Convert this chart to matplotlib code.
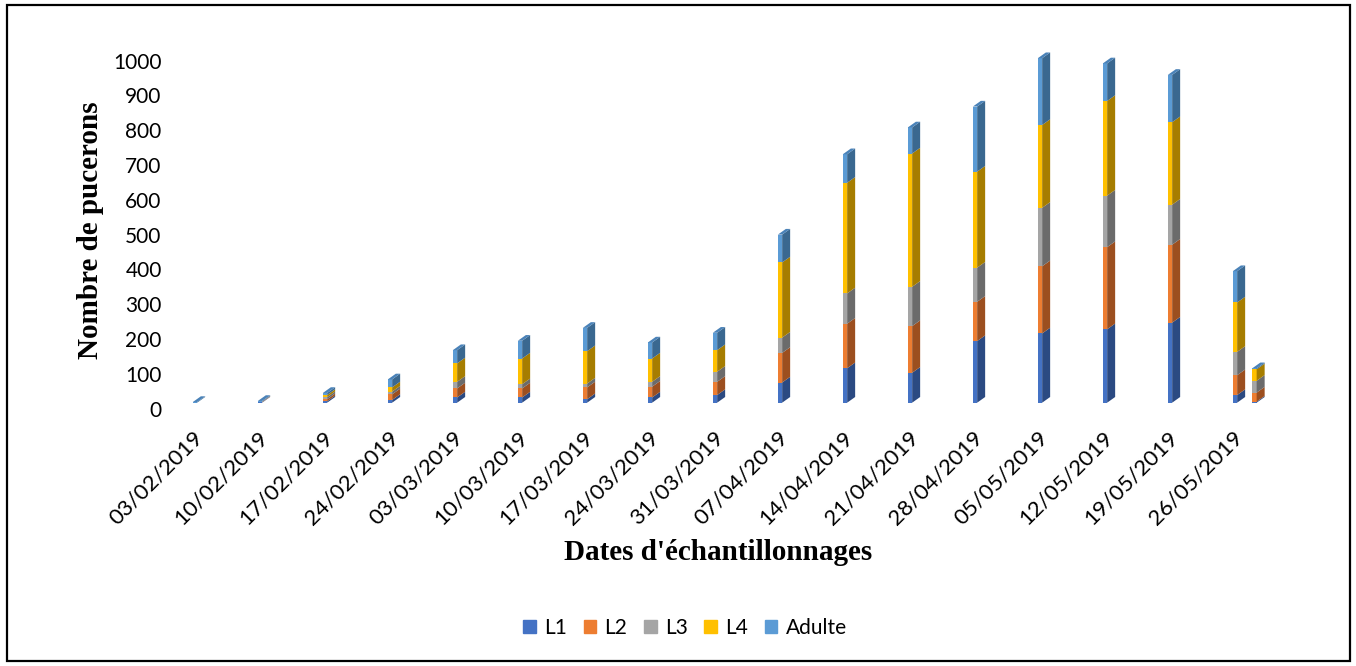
import numpy as np
import matplotlib.pyplot as plt
from matplotlib.patches import Polygon, Patch, Rectangle
from matplotlib.transforms import ScaledTranslation

# data (number of aphids per stage)
dates = ['03/02/2019', '10/02/2019', '17/02/2019', '24/02/2019', '03/03/2019',
         '10/03/2019', '17/03/2019', '24/03/2019', '31/03/2019', '07/04/2019',
         '14/04/2019', '21/04/2019', '28/04/2019', '05/05/2019', '12/05/2019',
         '19/05/2019', '26/05/2019']
L1 = [0, 1, 4, 8, 15, 15, 10, 15, 22, 58, 99, 86, 177, 199, 211, 230, 22]
L2 = [0, 1, 6, 16, 26, 26, 34, 31, 38, 85, 128, 134, 113, 193, 236, 224, 57]
L3 = [0, 1, 6, 8, 19, 12, 11, 14, 29, 44, 87, 113, 98, 168, 148, 115, 67]
L4 = [0, 0, 6, 12, 53, 74, 93, 67, 62, 216, 318, 383, 276, 238, 272, 237, 142]
adulte = [2, 2, 6, 23, 38, 51, 67, 46, 50, 80, 82, 75, 187, 192, 108, 136, 90]
# small extra column drawn just behind the last date
extra = [3, 26, 34, 33, 3]

stages = ['L1', 'L2', 'L3', 'L4', 'Adulte']
front_cols = ['#4472C4', '#ED7D31', '#A5A5A5', '#FFC000', '#5B9BD5']
side_cols = ['#2B4A82', '#9C4F1F', '#6B6B6B', '#A67D00', '#3A6890']
top_cols = ['#3A62A8', '#C8692A', '#8C8C8C', '#D9A300', '#4A82B8']

plt.rcParams['font.family'] = ['Lato', 'DejaVu Sans']

W, H = 1356, 666
fig = plt.figure(figsize=(W / 100, H / 100), dpi=100)

# axes placement in pixels
ax_l, ax_r = 170, 1290
ax_top, ax_bot = 54.7, 402.7
slot = 65.0          # px per date
first_c = 199.0      # px centre of first column
ax = fig.add_axes([ax_l / W, 1 - ax_bot / H, (ax_r - ax_l) / W, (ax_bot - ax_top) / H])
xmin = -(first_c - ax_l) / slot
ax.set_xlim(xmin, xmin + (ax_r - ax_l) / slot)
ax.set_ylim(0, 1000)

dxp = 1 / slot
dyp = 1000 / (ax_bot - ax_top)
fw, sw, dz = 4.3, 8.0, 5.7   # front width, side width, depth rise (px)


def column(xc, vals):
    left = xc - (fw + sw) / 2 * dxp
    base = 0
    last = None
    for i, v in enumerate(vals):
        if v <= 0:
            continue
        ax.bar(left, v, width=fw * dxp, bottom=base, align='edge',
               color=front_cols[i], linewidth=0, clip_on=False)
        ax.add_patch(Polygon([(left + fw * dxp, base),
                              (left + (fw + sw) * dxp, base + dz * dyp),
                              (left + (fw + sw) * dxp, base + v + dz * dyp),
                              (left + fw * dxp, base + v)],
                             closed=True, color=side_cols[i], lw=0, clip_on=False))
        base += v
        last = i
    if last is not None:
        ax.add_patch(Polygon([(left, base), (left + fw * dxp, base),
                              (left + (fw + sw) * dxp, base + dz * dyp),
                              (left + sw * dxp, base + dz * dyp)],
                             closed=True, color=top_cols[last], lw=0, clip_on=False))
    return left


x = np.arange(len(dates))
stack = np.array([L1, L2, L3, L4, adulte]).T
lefts = [column(xc, vals) for xc, vals in zip(x, stack)]
column(x[-1] + 0.3, extra)

ax.set_xticks(lefts)
ax.set_xticklabels(dates, rotation=45, ha='right', va='top',
                   rotation_mode='anchor', fontsize=16)
ax.set_yticks(np.arange(0, 1001, 100))
ax.tick_params(axis='x', length=0, pad=18)
ax.tick_params(axis='y', length=0, pad=6, labelsize=15)
shift = ScaledTranslation(0, -6 / 100, fig.dpi_scale_trans)
for lab in ax.get_yticklabels():
    lab.set_transform(lab.get_transform() + shift)
for s in ax.spines.values():
    s.set_visible(False)

fig.text(91 / W, 1 - 230 / H, 'Nombre de pucerons', rotation=90, ha='center',
         va='center', family='Liberation Serif', weight='bold', fontsize=21)
fig.text(718 / W, 1 - 552 / H, "Dates d'échantillonnages", ha='center',
         va='center', family='Liberation Serif', weight='bold', fontsize=21)

handles = [Patch(color=c) for c in front_cols]
fig.legend(handles, stages, loc='center', bbox_to_anchor=(685 / W, 1 - 628 / H),
           ncol=5, frameon=False, fontsize=15, handlelength=0.6, handleheight=0.6,
           handletextpad=0.4, columnspacing=0.8)

fig.patches.append(Rectangle((7 / W, 1 - 661 / H), 1343 / W, 656 / H,
                             transform=fig.transFigure, fill=False,
                             edgecolor='black', linewidth=1.6))

fig.savefig('out.png', dpi=100)
